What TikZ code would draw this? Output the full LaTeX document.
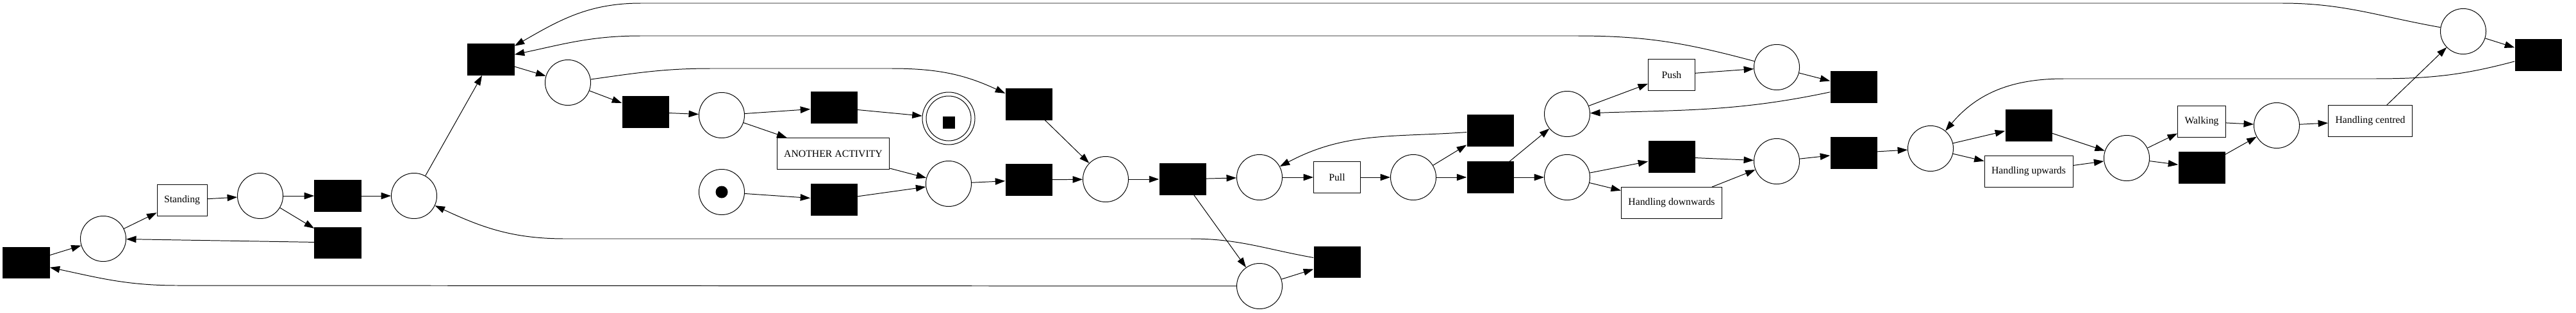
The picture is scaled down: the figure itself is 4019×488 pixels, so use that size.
\documentclass[tikz,border=0pt]{standalone}
\usepackage{fontspec}
\setmainfont{Liberation Serif}
\usetikzlibrary{arrows.meta}

\begin{document}
\begin{tikzpicture}[x=0.025cm, y=-0.025cm,
            place/.style={draw, circle, line width=0.7pt, minimum size=1.775cm, inner sep=0pt},
            silent/.style={fill=black, rectangle, minimum width=1.825cm, minimum height=1.225cm, inner sep=0pt},
            activity/.style={draw, rectangle, line width=0.7pt, minimum width=1.825cm, minimum height=1.225cm, inner xsep=0.275cm, font=\fontsize{11.2}{13}\selectfont},
            arc/.style={-{Triangle[length=11pt,width=7.5pt]}, line width=0.7pt}]
            \useasboundingbox (0,0) rectangle (4019,488);
            
            % places
            \node (p1) at (161,373) [place] {};
            \node (p2) at (406,306) [place] {};
            \node (p3) at (646,306) [place] {};
            \node (p4) at (886,129) [place] {};
            \node (p5) at (1126,180) [place] {};
            \node (pinit) at (1126,300) [place] {};
            \node (pend) at (1480,185) [place, minimum size=2.05cm] {};
            \node (p6) at (1480,287) [place] {};
            \node (p7) at (1725,280) [place] {};
            \node (p8) at (1965,277) [place] {};
            \node (p9) at (1965,447) [place] {};
            \node (p10) at (2205,277) [place] {};
            \node (p11) at (2445,178) [place] {};
            \node (p12) at (2445,277) [place] {};
            \node (p13) at (2772,105) [place] {};
            \node (p14) at (2772,252) [place] {};
            \node (p15) at (3012,232) [place] {};
            \node (p16) at (3318,247) [place] {};
            \node (p17) at (3552,196) [place] {};
            \node (p18) at (3843,49) [place] {};
            
            \fill (pinit) circle (0.2375cm);
            \draw[line width=0.7pt] (pend) circle (0.875cm);
            \fill ([yshift=-0.15cm]pend.center) ++(-0.2375cm,-0.2375cm) rectangle ++(0.475cm,0.475cm);
            
            % silent transitions
            \node (tstart) at (41,410) [silent] {};
            \node (t2a) at (527,306) [silent] {};
            \node (t2b) at (527,379) [silent] {};
            \node (ttop) at (766,93) [silent] {};
            \node (t4) at (1007,175) [silent] {};
            \node (t5a) at (1301,168) [silent] {};
            \node (tinit) at (1301,312) [silent] {};
            \node (t6) at (1605,163) [silent] {};
            \node (t7) at (1605,281) [silent] {};
            \node (t8) at (1845,280) [silent] {};
            \node (t9) at (2086,409) [silent] {};
            \node (t10) at (2325,204) [silent] {};
            \node (t11) at (2325,277) [silent] {};
            \node (t12) at (2608,245) [silent] {};
            \node (t13) at (2892,136) [silent] {};
            \node (t14) at (2892,239) [silent] {};
            \node (t15) at (3165,196) [silent] {};
            \node (t16) at (3435,262) [silent] {};
            \node (tend) at (3960,86) [silent] {};
            
            % activities
            \node (standing) at (284,313) [activity] {Standing};
            \node (another) at (1300,240) [activity] {ANOTHER ACTIVITY};
            \node (pull) at (2086,277) [activity] {Pull};
            \node (push) at (2608,117) [activity] {Push};
            \node (down) at (2608,317) [activity] {Handling downwards};
            \node (up) at (3165,268) [activity] {Handling upwards};
            \node (walking) at (3435,190) [activity] {Walking};
            \node (centred) at (3698,189) [activity] {Handling centred};
            
            \draw[arc] (tstart) -- (p1);
            \draw[arc] (p1) -- (standing);
            \draw[arc] (standing) -- (p2);
            \draw[arc] (p2) -- (t2a);
            \draw[arc] (p2) -- (t2b);
            \draw[arc] (t2b) -- (p1);
            \draw[arc] (t2a) -- (p3);
            \draw[arc] (p3) -- (ttop);
            \draw[arc] (ttop) -- (p4);
            \draw[arc] (p4) -- (t4);
            \draw[arc] (t4) -- (p5);
            \draw[arc] (p5) -- (t5a);
            \draw[arc] (p5) -- (another);
            \draw[arc] (t5a) -- (pend);
            \draw[arc] (another) -- (p6);
            \draw[arc] (pinit) -- (tinit);
            \draw[arc] (tinit) -- (p6);
            \draw[arc] (p6) -- (t7);
            \draw[arc] (t7) -- (p7);
            \draw[arc] (t6) -- (p7);
            \draw[arc] (p7) -- (t8);
            \draw[arc] (t8) -- (p8);
            \draw[arc] (t8) -- (p9);
            \draw[arc] (p9) -- (t9);
            \draw[arc] (p8) -- (pull);
            \draw[arc] (pull) -- (p10);
            \draw[arc] (p10) -- (t10);
            \draw[arc] (p10) -- (t11);
            \draw[arc] (t11) -- (p11);
            \draw[arc] (t11) -- (p12);
            \draw[arc] (p11) -- (push);
            \draw[arc] (push) -- (p13);
            \draw[arc] (p13) -- (t13);
            \draw[arc] (p12) -- (t12);
            \draw[arc] (p12) -- (down);
            \draw[arc] (t12) -- (p14);
            \draw[arc] (down) -- (p14);
            \draw[arc] (p14) -- (t14);
            \draw[arc] (t14) -- (p15);
            \draw[arc] (p15) -- (t15);
            \draw[arc] (p15) -- (up);
            \draw[arc] (t15) -- (p16);
            \draw[arc] (up) -- (p16);
            \draw[arc] (p16) -- (walking);
            \draw[arc] (p16) -- (t16);
            \draw[arc] (walking) -- (p17);
            \draw[arc] (t16) -- (p17);
            \draw[arc] (p17) -- (centred);
            \draw[arc] (centred) -- (p18);
            \draw[arc] (p18) -- (tend);
            
            % loops back
            \draw[arc] (p18) to[out=170,in=0] (3560,5) -- (1000,5) to[out=180,in=30] (ttop);
            \draw[arc] (p13) to[out=165,in=0] (2460,56) -- (1000,56) to[out=180,in=12] (ttop);
            \draw[arc] (p4) to[out=8,in=180] (1110,107) -- (1390,107) to[out=0,in=155] (t6);
            \draw[arc] (p9) -- (277,446) to[out=180,in=-12] (tstart);
            \draw[arc] (t9) to[out=170,in=0] (1858,373) -- (882,373) to[out=180,in=-25] (p3);
            \draw[arc] (t10) to[out=184,in=28] (p8);
            \draw[arc] (t13) to[out=192,in=2] (p11);
            \draw[arc] (tend) to[out=195,in=0] (3700,123) -- (3220,123) to[out=180,in=50] (p15);
            
            \end{tikzpicture}
\end{document}
